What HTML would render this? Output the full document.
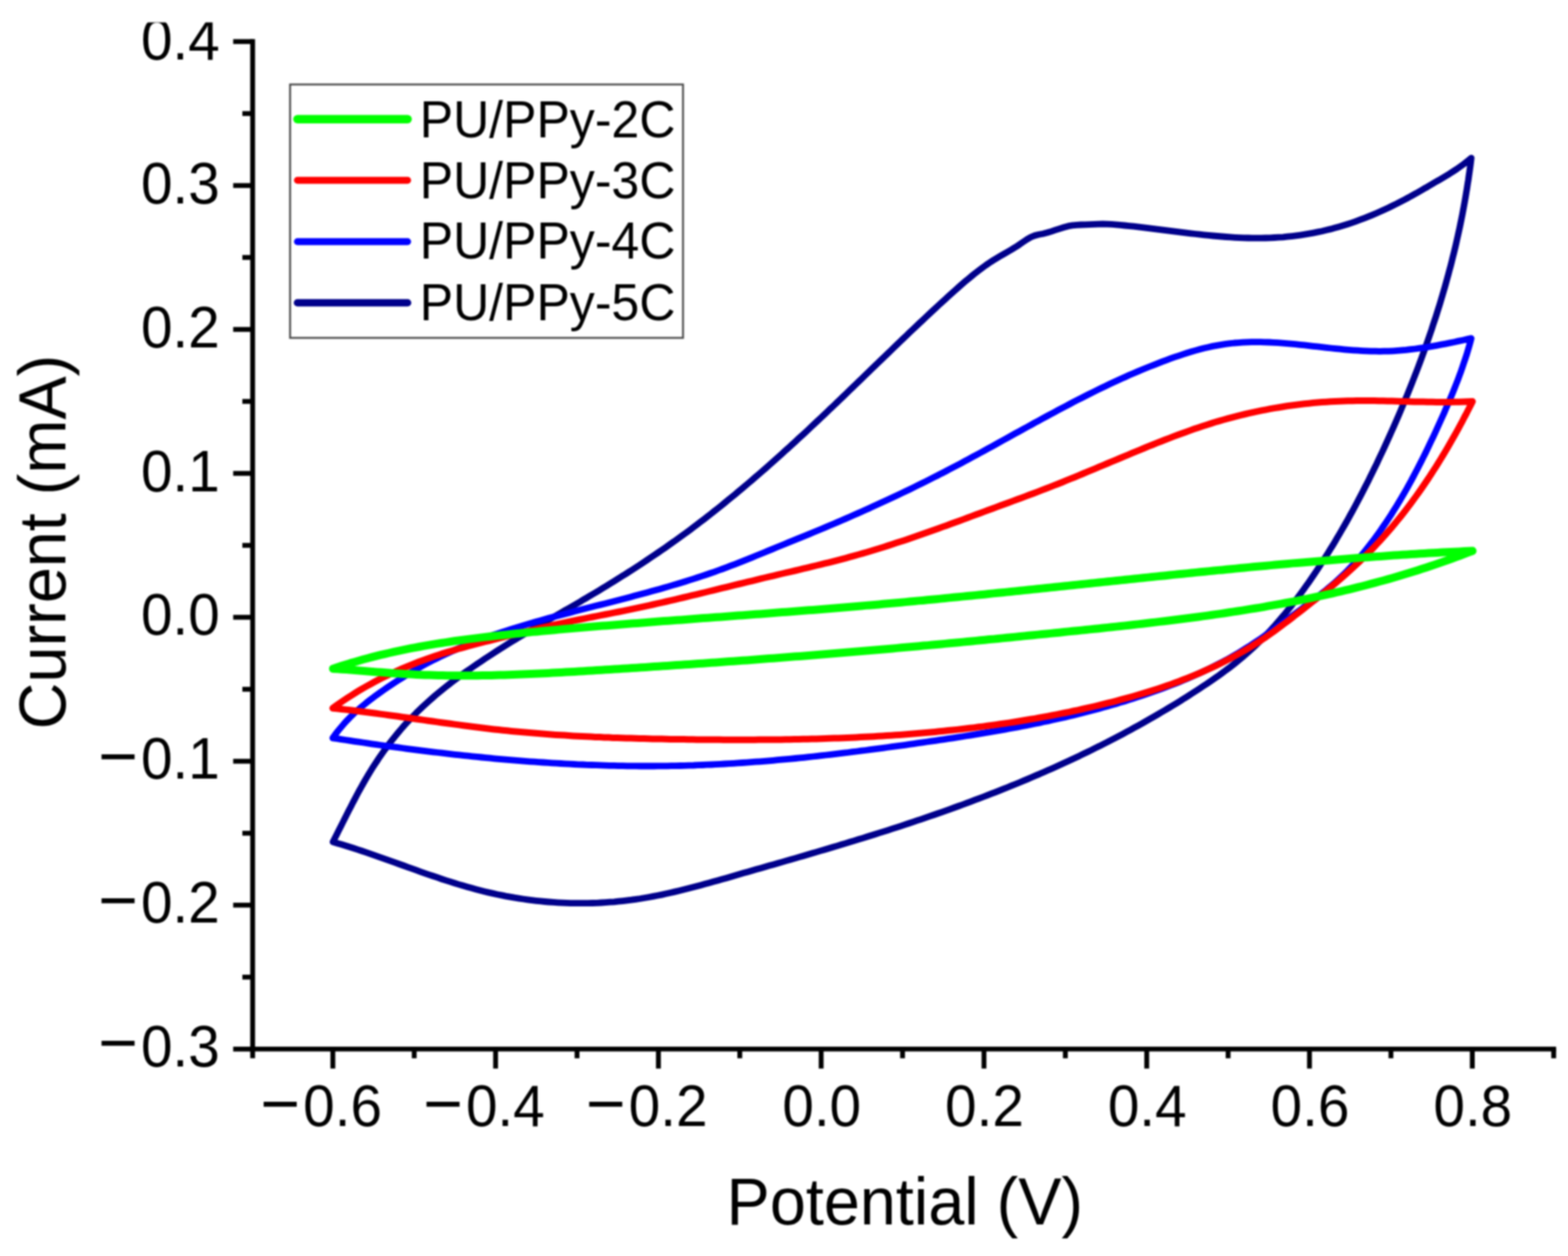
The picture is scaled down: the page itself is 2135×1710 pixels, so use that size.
<!DOCTYPE html>
<html lang="en"><head><meta charset="utf-8"><title>CV curves PU/PPy</title>
<style>html,body{margin:0;padding:0;background:#fff;}body{width:2135px;height:1710px;overflow:hidden;}svg{display:block;filter:blur(0.8px);}</style>
</head><body>
<svg width="2135" height="1710" viewBox="0 0 2135 1710" role="img" aria-label="Cyclic voltammetry curves of PU/PPy samples">
<rect width="2135" height="1710" fill="#fff"/>
<g fill="none" stroke-linejoin="round" stroke-linecap="round">
<path d="M453.3,1146.3 L456.0,1141.0 L458.7,1135.7 L461.4,1130.3 L464.1,1125.0 L466.8,1119.6 L469.5,1114.3 L472.2,1108.9 L474.9,1103.6 L477.7,1098.3 L480.4,1092.9 L483.2,1087.6 L486.0,1082.3 L488.8,1077.0 L491.7,1071.8 L494.7,1066.5 L497.7,1061.3 L500.7,1056.1 L503.8,1051.0 L507.0,1045.8 L510.2,1040.8 L513.6,1035.7 L516.9,1030.7 L520.4,1025.7 L523.9,1020.8 L527.5,1016.0 L531.1,1011.2 L534.8,1006.4 L538.6,1001.7 L542.4,997.1 L546.3,992.5 L550.2,988.0 L554.3,983.6 L558.3,979.3 L562.5,975.0 L566.7,970.7 L570.9,966.6 L575.2,962.5 L579.6,958.5 L584.0,954.5 L588.4,950.6 L592.9,946.7 L597.5,942.9 L602.1,939.1 L606.7,935.4 L611.4,931.7 L616.1,928.1 L620.9,924.5 L625.7,920.9 L630.5,917.4 L635.4,913.9 L640.3,910.5 L645.3,907.0 L650.2,903.6 L655.2,900.3 L660.2,896.9 L665.3,893.6 L670.3,890.3 L675.4,887.0 L680.5,883.7 L685.7,880.5 L690.8,877.3 L696.0,874.1 L701.2,871.0 L706.4,867.8 L711.6,864.7 L716.8,861.6 L722.0,858.5 L727.2,855.4 L732.4,852.3 L737.7,849.3 L742.9,846.3 L748.2,843.2 L753.4,840.2 L758.6,837.2 L763.8,834.2 L769.1,831.2 L774.3,828.2 L779.5,825.2 L784.7,822.2 L789.9,819.2 L795.0,816.1 L800.2,813.1 L805.3,810.0 L810.5,807.0 L815.6,803.9 L820.7,800.8 L825.8,797.7 L830.9,794.6 L835.9,791.5 L841.0,788.3 L846.0,785.1 L851.1,782.0 L856.1,778.8 L861.1,775.6 L866.1,772.3 L871.1,769.1 L876.0,765.8 L881.0,762.5 L885.9,759.2 L890.8,755.9 L895.8,752.5 L900.7,749.2 L905.6,745.8 L910.4,742.4 L915.3,738.9 L920.2,735.5 L925.0,732.0 L929.8,728.5 L934.7,725.0 L939.5,721.4 L944.3,717.8 L949.0,714.2 L953.8,710.6 L958.6,706.9 L963.3,703.3 L968.0,699.6 L972.8,695.8 L977.5,692.1 L982.2,688.3 L986.9,684.5 L991.5,680.7 L996.2,676.9 L1000.9,673.1 L1005.5,669.2 L1010.1,665.3 L1014.8,661.4 L1019.4,657.5 L1024.0,653.6 L1028.5,649.7 L1033.1,645.7 L1037.7,641.7 L1042.2,637.8 L1046.8,633.8 L1051.3,629.8 L1055.8,625.7 L1060.3,621.7 L1064.8,617.7 L1069.3,613.6 L1073.8,609.6 L1078.2,605.5 L1082.7,601.4 L1087.1,597.3 L1091.6,593.2 L1096.0,589.2 L1100.4,585.1 L1104.8,580.9 L1109.2,576.8 L1113.5,572.7 L1117.9,568.6 L1122.3,564.5 L1126.6,560.4 L1130.9,556.2 L1135.3,552.1 L1139.6,548.0 L1143.9,543.8 L1148.2,539.7 L1152.5,535.6 L1156.8,531.4 L1161.1,527.3 L1165.4,523.1 L1169.7,519.0 L1174.0,514.9 L1178.3,510.7 L1182.5,506.6 L1186.8,502.4 L1191.1,498.3 L1195.4,494.1 L1199.7,490.0 L1204.0,485.8 L1208.3,481.7 L1212.6,477.6 L1216.9,473.4 L1221.2,469.3 L1225.5,465.1 L1229.8,461.0 L1234.2,456.9 L1238.5,452.7 L1242.8,448.6 L1247.2,444.5 L1251.6,440.3 L1256.0,436.2 L1260.3,432.1 L1264.7,428.0 L1269.2,423.8 L1273.6,419.7 L1278.0,415.6 L1282.5,411.5 L1287.0,407.4 L1291.5,403.3 L1296.0,399.2 L1300.5,395.2 L1305.1,391.1 L1309.6,387.1 L1314.2,383.2 L1318.9,379.3 L1323.5,375.5 L1328.2,371.7 L1333.0,368.1 L1337.7,364.5 L1342.5,361.0 L1347.4,357.7 L1352.2,354.5 L1357.2,351.4 L1362.1,348.5 L1367.2,345.6 L1372.2,342.7 L1377.3,339.8 L1382.5,336.6 L1387.7,333.2 L1393.0,329.5 L1398.4,325.9 L1403.8,322.8 L1409.2,320.6 L1414.7,319.3 L1420.2,318.2 L1425.8,316.8 L1431.4,315.1 L1437.1,313.2 L1442.8,311.3 L1448.6,309.5 L1454.3,307.9 L1460.1,306.9 L1466.0,306.3 L1471.8,306.0 L1477.7,305.8 L1483.6,305.6 L1489.6,305.3 L1495.5,305.1 L1501.5,305.0 L1507.5,305.1 L1513.5,305.4 L1519.4,305.8 L1525.4,306.4 L1531.4,307.0 L1537.4,307.6 L1543.4,308.2 L1549.5,308.9 L1555.5,309.6 L1561.5,310.4 L1567.5,311.1 L1573.5,311.8 L1579.5,312.6 L1585.5,313.4 L1591.5,314.1 L1597.5,314.9 L1603.5,315.6 L1609.5,316.4 L1615.5,317.1 L1621.5,317.8 L1627.5,318.5 L1633.5,319.2 L1639.5,319.8 L1645.5,320.4 L1651.5,321.0 L1657.5,321.5 L1663.5,322.0 L1669.4,322.5 L1675.4,322.9 L1681.4,323.3 L1687.4,323.6 L1693.4,323.8 L1699.3,324.0 L1705.3,324.1 L1711.3,324.1 L1717.2,324.1 L1723.2,324.0 L1729.1,323.8 L1735.1,323.5 L1741.0,323.2 L1747.0,322.8 L1752.9,322.2 L1758.8,321.6 L1764.7,320.9 L1770.6,320.1 L1776.5,319.2 L1782.4,318.2 L1788.3,317.1 L1794.2,315.9 L1800.0,314.7 L1805.9,313.3 L1811.7,311.9 L1817.5,310.3 L1823.3,308.7 L1829.0,307.0 L1834.8,305.2 L1840.5,303.3 L1846.2,301.3 L1851.9,299.2 L1857.5,297.1 L1863.1,294.9 L1868.7,292.6 L1874.3,290.2 L1879.8,287.8 L1885.4,285.2 L1890.8,282.7 L1896.3,280.0 L1901.7,277.4 L1907.0,274.6 L1912.4,271.8 L1917.7,269.0 L1922.9,266.1 L1928.2,263.2 L1933.4,260.2 L1938.5,257.2 L1943.7,254.3 L1948.8,251.3 L1953.8,248.3 L1958.9,245.4 L1963.9,242.4 L1968.9,239.4 L1973.9,236.4 L1978.8,233.2 L1983.8,230.0 L1988.7,226.5 L1993.6,223.0 L1998.4,219.1 L2003.3,215.1 L2002.6,221.1 L2001.8,227.1 L2001.0,233.0 L2000.1,239.0 L1999.3,244.9 L1998.3,250.9 L1997.4,256.8 L1996.4,262.7 L1995.4,268.7 L1994.4,274.6 L1993.3,280.5 L1992.2,286.4 L1991.1,292.3 L1989.9,298.1 L1988.7,304.0 L1987.5,309.9 L1986.2,315.7 L1984.9,321.6 L1983.6,327.4 L1982.3,333.3 L1980.9,339.1 L1979.5,344.9 L1978.0,350.7 L1976.6,356.5 L1975.1,362.3 L1973.5,368.1 L1972.0,373.9 L1970.4,379.7 L1968.8,385.5 L1967.2,391.2 L1965.5,397.0 L1963.8,402.7 L1962.1,408.5 L1960.4,414.2 L1958.6,419.9 L1956.8,425.6 L1955.0,431.3 L1953.1,437.0 L1951.2,442.7 L1949.4,448.4 L1947.4,454.1 L1945.5,459.7 L1943.5,465.4 L1941.5,471.1 L1939.5,476.7 L1937.5,482.3 L1935.4,488.0 L1933.3,493.6 L1931.2,499.2 L1929.1,504.8 L1926.9,510.4 L1924.7,516.0 L1922.5,521.6 L1920.3,527.2 L1918.1,532.7 L1915.8,538.3 L1913.5,543.8 L1911.2,549.4 L1908.9,554.9 L1906.6,560.4 L1904.2,566.0 L1901.8,571.5 L1899.4,577.0 L1897.0,582.5 L1894.5,588.0 L1892.1,593.4 L1889.6,598.9 L1887.1,604.4 L1884.6,609.8 L1882.1,615.3 L1879.5,620.7 L1876.9,626.2 L1874.4,631.6 L1871.7,637.0 L1869.1,642.4 L1866.4,647.8 L1863.8,653.2 L1861.1,658.5 L1858.3,663.9 L1855.6,669.2 L1852.8,674.6 L1850.0,679.9 L1847.2,685.2 L1844.4,690.5 L1841.5,695.8 L1838.6,701.0 L1835.7,706.3 L1832.8,711.5 L1829.8,716.7 L1826.8,721.9 L1823.8,727.1 L1820.7,732.3 L1817.7,737.5 L1814.6,742.6 L1811.4,747.7 L1808.3,752.8 L1805.1,757.9 L1801.8,763.0 L1798.6,768.0 L1795.3,773.1 L1792.0,778.1 L1788.7,783.0 L1785.3,788.0 L1781.9,792.9 L1778.4,797.8 L1774.9,802.7 L1771.4,807.5 L1767.9,812.3 L1764.3,817.1 L1760.6,821.8 L1757.0,826.5 L1753.3,831.1 L1749.5,835.7 L1745.7,840.2 L1741.9,844.7 L1738.0,849.2 L1734.1,853.6 L1730.1,857.9 L1726.0,862.2 L1721.9,866.5 L1717.8,870.7 L1713.6,874.9 L1709.3,879.0 L1705.0,883.0 L1700.6,887.0 L1696.1,891.0 L1691.6,894.9 L1687.0,898.7 L1682.3,902.5 L1677.6,906.2 L1672.8,909.9 L1667.9,913.5 L1663.0,917.1 L1658.1,920.7 L1653.1,924.2 L1648.1,927.6 L1643.0,931.1 L1637.9,934.4 L1632.8,937.8 L1627.7,941.1 L1622.6,944.4 L1617.5,947.7 L1612.3,950.9 L1607.2,954.2 L1602.0,957.4 L1596.9,960.5 L1591.7,963.6 L1586.5,966.8 L1581.3,969.8 L1576.1,972.9 L1570.9,975.9 L1565.6,978.9 L1560.4,981.9 L1555.2,984.9 L1549.9,987.8 L1544.6,990.7 L1539.4,993.6 L1534.1,996.4 L1528.8,999.3 L1523.5,1002.1 L1518.2,1004.9 L1512.9,1007.6 L1507.6,1010.4 L1502.2,1013.1 L1496.9,1015.8 L1491.5,1018.4 L1486.2,1021.1 L1480.8,1023.7 L1475.4,1026.3 L1470.1,1028.9 L1464.7,1031.4 L1459.3,1034.0 L1453.9,1036.5 L1448.4,1039.0 L1443.0,1041.5 L1437.6,1043.9 L1432.1,1046.4 L1426.7,1048.8 L1421.2,1051.2 L1415.8,1053.6 L1410.3,1055.9 L1404.8,1058.3 L1399.4,1060.6 L1393.9,1062.9 L1388.4,1065.2 L1382.9,1067.5 L1377.4,1069.7 L1371.8,1072.0 L1366.3,1074.2 L1360.8,1076.4 L1355.2,1078.6 L1349.7,1080.7 L1344.1,1082.9 L1338.6,1085.0 L1333.0,1087.1 L1327.4,1089.2 L1321.8,1091.3 L1316.3,1093.4 L1310.7,1095.5 L1305.1,1097.5 L1299.5,1099.5 L1293.8,1101.6 L1288.2,1103.6 L1282.6,1105.6 L1277.0,1107.5 L1271.3,1109.5 L1265.7,1111.4 L1260.0,1113.4 L1254.4,1115.3 L1248.7,1117.2 L1243.1,1119.1 L1237.4,1121.0 L1231.7,1122.9 L1226.0,1124.8 L1220.4,1126.6 L1214.7,1128.4 L1209.0,1130.3 L1203.3,1132.1 L1197.5,1133.9 L1191.8,1135.7 L1186.1,1137.5 L1180.4,1139.3 L1174.7,1141.1 L1168.9,1142.8 L1163.2,1144.6 L1157.5,1146.3 L1151.7,1148.1 L1146.0,1149.8 L1140.2,1151.6 L1134.4,1153.3 L1128.7,1155.0 L1122.9,1156.7 L1117.1,1158.4 L1111.4,1160.1 L1105.6,1161.8 L1099.8,1163.5 L1094.0,1165.2 L1088.2,1166.9 L1082.4,1168.6 L1076.6,1170.2 L1070.8,1171.9 L1065.0,1173.6 L1059.2,1175.3 L1053.4,1176.9 L1047.5,1178.6 L1041.7,1180.3 L1035.9,1181.9 L1030.0,1183.6 L1024.2,1185.3 L1018.4,1187.0 L1012.5,1188.6 L1006.7,1190.3 L1000.8,1192.0 L995.0,1193.7 L989.1,1195.4 L983.3,1197.0 L977.4,1198.7 L971.6,1200.3 L965.7,1202.0 L959.8,1203.6 L954.0,1205.2 L948.1,1206.8 L942.2,1208.3 L936.4,1209.8 L930.5,1211.3 L924.6,1212.7 L918.7,1214.1 L912.8,1215.5 L906.9,1216.8 L901.1,1218.1 L895.2,1219.3 L889.3,1220.4 L883.4,1221.5 L877.5,1222.5 L871.6,1223.5 L865.7,1224.3 L859.8,1225.2 L853.9,1225.9 L848.0,1226.6 L842.1,1227.2 L836.2,1227.8 L830.3,1228.2 L824.4,1228.6 L818.5,1229.0 L812.6,1229.3 L806.6,1229.5 L800.7,1229.6 L794.8,1229.7 L788.9,1229.7 L783.0,1229.7 L777.1,1229.6 L771.2,1229.4 L765.3,1229.1 L759.4,1228.8 L753.5,1228.4 L747.6,1228.0 L741.7,1227.5 L735.9,1226.9 L730.0,1226.3 L724.1,1225.6 L718.2,1224.8 L712.3,1224.0 L706.4,1223.1 L700.6,1222.2 L694.7,1221.1 L688.8,1220.1 L683.0,1218.9 L677.1,1217.7 L671.2,1216.4 L665.4,1215.1 L659.5,1213.7 L653.7,1212.2 L647.9,1210.7 L642.0,1209.1 L636.2,1207.5 L630.4,1205.8 L624.6,1204.1 L618.7,1202.3 L612.9,1200.4 L607.1,1198.6 L601.3,1196.7 L595.6,1194.7 L589.8,1192.8 L584.0,1190.8 L578.2,1188.8 L572.5,1186.8 L566.7,1184.7 L561.0,1182.7 L555.2,1180.6 L549.5,1178.5 L543.8,1176.5 L538.0,1174.4 L532.3,1172.4 L526.6,1170.3 L520.9,1168.3 L515.2,1166.3 L509.6,1164.3 L503.9,1162.3 L498.2,1160.4 L492.6,1158.5 L486.9,1156.6 L481.3,1154.8 L475.7,1153.0 L470.1,1151.2 L464.5,1149.5 L458.9,1147.9Z" stroke="#00008b" stroke-width="8.8"/>
<path d="M453.0,1004.8 L456.8,999.5 L460.7,994.5 L464.7,989.7 L468.7,985.0 L472.8,980.6 L477.0,976.3 L481.2,972.1 L485.5,968.1 L489.9,964.3 L494.4,960.5 L498.9,956.8 L503.4,953.3 L508.1,949.8 L512.7,946.3 L517.5,942.9 L522.3,939.5 L527.1,936.2 L532.0,932.9 L536.9,929.6 L541.9,926.4 L546.9,923.2 L552.0,920.0 L557.1,916.9 L562.3,913.9 L567.5,910.9 L572.7,907.9 L578.0,905.0 L583.3,902.2 L588.6,899.4 L594.0,896.7 L599.4,894.1 L604.8,891.5 L610.3,889.0 L615.8,886.5 L621.3,884.1 L626.8,881.7 L632.4,879.4 L638.0,877.1 L643.6,874.9 L649.2,872.8 L654.9,870.6 L660.5,868.6 L666.2,866.5 L671.9,864.5 L677.6,862.6 L683.4,860.7 L689.1,858.8 L694.9,857.0 L700.7,855.1 L706.5,853.4 L712.3,851.6 L718.1,849.9 L723.9,848.2 L729.7,846.5 L735.5,844.9 L741.4,843.2 L747.2,841.6 L753.1,840.1 L758.9,838.5 L764.8,836.9 L770.6,835.4 L776.5,833.9 L782.3,832.3 L788.2,830.8 L794.0,829.3 L799.9,827.8 L805.7,826.3 L811.5,824.8 L817.4,823.4 L823.2,821.9 L829.0,820.4 L834.8,818.9 L840.6,817.4 L846.4,815.9 L852.2,814.4 L858.0,812.9 L863.8,811.3 L869.6,809.8 L875.3,808.2 L881.1,806.7 L886.9,805.1 L892.6,803.5 L898.4,801.9 L904.1,800.3 L909.9,798.6 L915.6,796.9 L921.3,795.2 L927.1,793.5 L932.8,791.7 L938.5,789.9 L944.2,788.1 L949.9,786.3 L955.6,784.4 L961.3,782.5 L967.0,780.5 L972.7,778.6 L978.3,776.5 L984.0,774.5 L989.7,772.4 L995.3,770.2 L1001.0,768.1 L1006.6,765.9 L1012.3,763.6 L1017.9,761.4 L1023.6,759.1 L1029.2,756.8 L1034.8,754.5 L1040.4,752.2 L1046.0,749.9 L1051.6,747.6 L1057.2,745.3 L1062.8,743.0 L1068.4,740.7 L1074.0,738.4 L1079.6,736.2 L1085.1,733.9 L1090.7,731.6 L1096.3,729.4 L1101.8,727.1 L1107.4,724.8 L1112.9,722.5 L1118.4,720.2 L1124.0,717.9 L1129.5,715.5 L1135.0,713.2 L1140.5,710.9 L1146.0,708.5 L1151.5,706.1 L1157.0,703.7 L1162.5,701.3 L1168.0,698.9 L1173.4,696.5 L1178.9,694.0 L1184.4,691.6 L1189.8,689.1 L1195.3,686.6 L1200.7,684.1 L1206.2,681.6 L1211.6,679.1 L1217.0,676.5 L1222.4,674.0 L1227.8,671.4 L1233.3,668.8 L1238.7,666.2 L1244.0,663.6 L1249.4,660.9 L1254.8,658.3 L1260.2,655.6 L1265.6,652.9 L1270.9,650.2 L1276.3,647.5 L1281.6,644.7 L1287.0,642.0 L1292.3,639.2 L1297.6,636.4 L1303.0,633.6 L1308.3,630.8 L1313.6,627.9 L1318.9,625.1 L1324.2,622.2 L1329.5,619.4 L1334.8,616.5 L1340.1,613.6 L1345.4,610.7 L1350.7,607.8 L1356.0,604.8 L1361.3,601.9 L1366.5,599.0 L1371.8,596.1 L1377.1,593.2 L1382.4,590.2 L1387.7,587.3 L1393.0,584.4 L1398.3,581.5 L1403.6,578.6 L1408.8,575.6 L1414.1,572.8 L1419.4,569.9 L1424.8,567.0 L1430.1,564.1 L1435.4,561.3 L1440.7,558.4 L1446.0,555.6 L1451.4,552.8 L1456.7,550.0 L1462.0,547.2 L1467.4,544.4 L1472.8,541.7 L1478.1,539.0 L1483.5,536.3 L1488.9,533.6 L1494.3,530.9 L1499.7,528.3 L1505.1,525.7 L1510.6,523.1 L1516.0,520.6 L1521.5,518.0 L1526.9,515.5 L1532.4,513.1 L1537.9,510.6 L1543.4,508.2 L1548.9,505.9 L1554.5,503.5 L1560.0,501.2 L1565.6,499.0 L1571.2,496.8 L1576.8,494.6 L1582.4,492.4 L1588.0,490.3 L1593.7,488.2 L1599.4,486.2 L1605.1,484.3 L1610.8,482.4 L1616.5,480.5 L1622.2,478.8 L1628.0,477.1 L1633.7,475.5 L1639.5,474.0 L1645.3,472.7 L1651.1,471.4 L1657.0,470.3 L1662.8,469.3 L1668.7,468.4 L1674.6,467.7 L1680.4,467.0 L1686.3,466.6 L1692.2,466.2 L1698.2,465.9 L1704.1,465.7 L1710.0,465.7 L1716.0,465.7 L1721.9,465.8 L1727.9,466.0 L1733.9,466.3 L1739.9,466.7 L1745.9,467.1 L1751.9,467.6 L1757.9,468.1 L1763.9,468.7 L1769.9,469.3 L1776.0,469.9 L1782.0,470.6 L1788.0,471.3 L1794.1,471.9 L1800.1,472.6 L1806.2,473.3 L1812.2,474.0 L1818.3,474.6 L1824.3,475.2 L1830.4,475.8 L1836.4,476.3 L1842.5,476.8 L1848.5,477.2 L1854.6,477.6 L1860.6,477.9 L1866.6,478.1 L1872.7,478.2 L1878.7,478.3 L1884.7,478.2 L1890.7,478.1 L1896.8,477.8 L1902.8,477.4 L1908.8,476.9 L1914.8,476.4 L1920.7,475.7 L1926.7,475.0 L1932.7,474.2 L1938.6,473.3 L1944.6,472.4 L1950.5,471.4 L1956.4,470.3 L1962.3,469.2 L1968.2,468.1 L1974.1,466.9 L1980.0,465.7 L1985.8,464.4 L1991.7,463.2 L1997.5,461.9 L2003.3,460.6 L2001.8,466.3 L2000.2,472.0 L1998.5,477.7 L1996.8,483.4 L1994.9,489.1 L1993.0,494.7 L1991.1,500.4 L1989.1,506.1 L1987.0,511.7 L1984.9,517.4 L1982.7,523.0 L1980.5,528.6 L1978.2,534.3 L1975.9,539.9 L1973.5,545.5 L1971.1,551.1 L1968.7,556.6 L1966.3,562.2 L1963.8,567.7 L1961.3,573.3 L1958.8,578.8 L1956.3,584.3 L1953.8,589.8 L1951.2,595.3 L1948.6,600.7 L1946.0,606.2 L1943.4,611.6 L1940.8,617.0 L1938.1,622.4 L1935.4,627.8 L1932.7,633.1 L1929.9,638.5 L1927.1,643.8 L1924.3,649.1 L1921.5,654.4 L1918.6,659.6 L1915.7,664.9 L1912.7,670.1 L1909.7,675.2 L1906.7,680.4 L1903.6,685.5 L1900.5,690.7 L1897.3,695.7 L1894.1,700.8 L1890.8,705.8 L1887.5,710.8 L1884.1,715.8 L1880.7,720.8 L1877.2,725.7 L1873.7,730.6 L1870.1,735.5 L1866.4,740.3 L1862.7,745.0 L1858.9,749.7 L1855.1,754.4 L1851.2,759.0 L1847.3,763.5 L1843.2,767.9 L1839.1,772.3 L1835.0,776.6 L1830.7,780.8 L1826.4,784.9 L1822.1,789.0 L1817.7,793.0 L1813.2,796.9 L1808.6,800.7 L1804.1,804.5 L1799.4,808.2 L1794.8,811.9 L1790.1,815.5 L1785.4,819.2 L1780.6,822.8 L1775.8,826.3 L1771.0,829.9 L1766.2,833.5 L1761.4,837.0 L1756.6,840.6 L1751.7,844.2 L1746.9,847.7 L1742.0,851.3 L1737.2,854.8 L1732.3,858.3 L1727.4,861.9 L1722.4,865.3 L1717.5,868.8 L1712.5,872.2 L1707.5,875.5 L1702.4,878.9 L1697.3,882.1 L1692.2,885.3 L1687.0,888.5 L1681.8,891.5 L1676.6,894.6 L1671.3,897.5 L1666.0,900.4 L1660.6,903.2 L1655.2,906.0 L1649.8,908.7 L1644.3,911.4 L1638.8,914.0 L1633.3,916.6 L1627.8,919.1 L1622.2,921.5 L1616.6,923.9 L1611.0,926.3 L1605.4,928.6 L1599.7,930.8 L1594.1,933.0 L1588.4,935.2 L1582.7,937.3 L1577.0,939.4 L1571.3,941.4 L1565.6,943.4 L1559.9,945.4 L1554.1,947.3 L1548.4,949.2 L1542.7,951.1 L1536.9,952.9 L1531.2,954.7 L1525.4,956.4 L1519.6,958.2 L1513.9,959.8 L1508.1,961.5 L1502.3,963.1 L1496.6,964.7 L1490.8,966.3 L1485.0,967.8 L1479.2,969.3 L1473.4,970.8 L1467.6,972.2 L1461.8,973.6 L1456.0,975.0 L1450.2,976.4 L1444.3,977.7 L1438.5,979.0 L1432.7,980.3 L1426.9,981.6 L1421.0,982.8 L1415.2,984.1 L1409.3,985.3 L1403.5,986.4 L1397.6,987.6 L1391.8,988.7 L1385.9,989.9 L1380.0,991.0 L1374.2,992.0 L1368.3,993.1 L1362.4,994.2 L1356.5,995.2 L1350.7,996.2 L1344.8,997.2 L1338.9,998.2 L1333.0,999.2 L1327.1,1000.1 L1321.2,1001.1 L1315.3,1002.0 L1309.4,1003.0 L1303.4,1003.9 L1297.5,1004.8 L1291.6,1005.7 L1285.7,1006.6 L1279.8,1007.4 L1273.8,1008.3 L1267.9,1009.2 L1262.0,1010.0 L1256.0,1010.9 L1250.1,1011.7 L1244.1,1012.6 L1238.2,1013.4 L1232.3,1014.3 L1226.3,1015.1 L1220.3,1015.9 L1214.4,1016.7 L1208.4,1017.5 L1202.5,1018.3 L1196.5,1019.1 L1190.5,1019.9 L1184.6,1020.7 L1178.6,1021.5 L1172.6,1022.2 L1166.6,1023.0 L1160.7,1023.7 L1154.7,1024.5 L1148.7,1025.2 L1142.7,1025.9 L1136.7,1026.6 L1130.7,1027.3 L1124.7,1028.0 L1118.8,1028.7 L1112.8,1029.3 L1106.8,1030.0 L1100.8,1030.6 L1094.8,1031.3 L1088.8,1031.9 L1082.8,1032.5 L1076.8,1033.1 L1070.8,1033.6 L1064.7,1034.2 L1058.7,1034.7 L1052.7,1035.3 L1046.7,1035.8 L1040.7,1036.3 L1034.7,1036.8 L1028.7,1037.2 L1022.7,1037.7 L1016.6,1038.1 L1010.6,1038.5 L1004.6,1038.9 L998.6,1039.3 L992.6,1039.7 L986.5,1040.0 L980.5,1040.4 L974.5,1040.7 L968.5,1041.0 L962.4,1041.2 L956.4,1041.5 L950.4,1041.7 L944.4,1042.0 L938.3,1042.1 L932.3,1042.3 L926.3,1042.5 L920.3,1042.6 L914.2,1042.7 L908.2,1042.8 L902.2,1042.9 L896.1,1042.9 L890.1,1043.0 L884.1,1043.0 L878.1,1043.0 L872.0,1043.0 L866.0,1042.9 L860.0,1042.9 L854.0,1042.8 L847.9,1042.7 L841.9,1042.6 L835.9,1042.4 L829.8,1042.3 L823.8,1042.1 L817.8,1041.9 L811.8,1041.7 L805.7,1041.5 L799.7,1041.3 L793.7,1041.0 L787.7,1040.8 L781.6,1040.5 L775.6,1040.2 L769.6,1039.9 L763.6,1039.5 L757.6,1039.2 L751.6,1038.8 L745.5,1038.4 L739.5,1038.0 L733.5,1037.6 L727.5,1037.2 L721.5,1036.8 L715.5,1036.3 L709.5,1035.8 L703.5,1035.4 L697.4,1034.9 L691.4,1034.4 L685.4,1033.8 L679.4,1033.3 L673.4,1032.8 L667.4,1032.2 L661.4,1031.6 L655.4,1031.0 L649.5,1030.4 L643.5,1029.8 L637.5,1029.2 L631.5,1028.6 L625.5,1027.9 L619.5,1027.3 L613.5,1026.6 L607.6,1025.9 L601.6,1025.2 L595.6,1024.5 L589.6,1023.8 L583.7,1023.1 L577.7,1022.3 L571.7,1021.6 L565.8,1020.8 L559.8,1020.1 L553.8,1019.3 L547.9,1018.5 L541.9,1017.7 L536.0,1016.9 L530.0,1016.1 L524.1,1015.3 L518.2,1014.5 L512.2,1013.6 L506.3,1012.8 L500.3,1011.9 L494.4,1011.0 L488.5,1010.2 L482.6,1009.3 L476.6,1008.4 L470.7,1007.5 L464.8,1006.6 L458.9,1005.7Z" stroke="#0000ff" stroke-width="8.8"/>
<path d="M453.0,964.2 L458.1,960.5 L463.2,956.9 L468.3,953.4 L473.4,950.0 L478.6,946.7 L483.8,943.4 L489.0,940.2 L494.2,937.1 L499.5,934.1 L504.8,931.2 L510.1,928.3 L515.4,925.5 L520.8,922.8 L526.1,920.2 L531.5,917.6 L536.9,915.1 L542.4,912.6 L547.8,910.2 L553.3,907.9 L558.8,905.7 L564.3,903.5 L569.8,901.3 L575.4,899.2 L580.9,897.2 L586.5,895.2 L592.1,893.3 L597.7,891.5 L603.3,889.6 L609.0,887.9 L614.6,886.2 L620.3,884.5 L626.0,882.8 L631.6,881.3 L637.4,879.7 L643.1,878.2 L648.8,876.7 L654.5,875.2 L660.3,873.7 L666.1,872.3 L671.8,870.8 L677.6,869.4 L683.4,868.0 L689.2,866.5 L695.0,865.1 L700.9,863.6 L706.7,862.2 L712.5,860.7 L718.4,859.3 L724.2,857.8 L730.1,856.4 L736.0,855.0 L741.8,853.6 L747.7,852.3 L753.6,851.0 L759.5,849.7 L765.4,848.4 L771.3,847.2 L777.2,845.9 L783.1,844.7 L789.0,843.5 L794.9,842.3 L800.8,841.2 L806.7,840.0 L812.6,838.9 L818.5,837.7 L824.4,836.5 L830.4,835.4 L836.3,834.2 L842.2,833.0 L848.1,831.8 L854.0,830.6 L859.9,829.4 L865.8,828.2 L871.7,826.9 L877.6,825.6 L883.5,824.3 L889.4,823.0 L895.3,821.7 L901.2,820.4 L907.1,819.0 L913.0,817.7 L918.8,816.3 L924.7,814.9 L930.6,813.5 L936.5,812.1 L942.3,810.7 L948.2,809.3 L954.1,807.9 L959.9,806.5 L965.8,805.0 L971.7,803.6 L977.5,802.2 L983.4,800.7 L989.2,799.3 L995.1,797.9 L1000.9,796.4 L1006.8,795.0 L1012.6,793.6 L1018.4,792.2 L1024.3,790.8 L1030.1,789.3 L1035.9,787.9 L1041.7,786.5 L1047.6,785.2 L1053.4,783.8 L1059.2,782.4 L1065.0,781.0 L1070.8,779.7 L1076.6,778.3 L1082.4,777.0 L1088.2,775.6 L1094.0,774.2 L1099.8,772.8 L1105.6,771.4 L1111.4,770.0 L1117.2,768.6 L1122.9,767.2 L1128.7,765.8 L1134.5,764.3 L1140.3,762.8 L1146.0,761.3 L1151.8,759.8 L1157.6,758.2 L1163.3,756.6 L1169.1,755.0 L1174.8,753.4 L1180.6,751.7 L1186.3,750.0 L1192.0,748.2 L1197.8,746.5 L1203.5,744.7 L1209.2,742.9 L1215.0,741.0 L1220.7,739.1 L1226.4,737.3 L1232.1,735.4 L1237.8,733.4 L1243.5,731.5 L1249.2,729.5 L1254.9,727.5 L1260.6,725.5 L1266.3,723.5 L1272.0,721.5 L1277.7,719.5 L1283.3,717.4 L1289.0,715.4 L1294.7,713.3 L1300.3,711.2 L1306.0,709.2 L1311.7,707.1 L1317.3,705.0 L1323.0,702.9 L1328.6,700.8 L1334.3,698.7 L1339.9,696.6 L1345.5,694.6 L1351.2,692.5 L1356.8,690.4 L1362.4,688.3 L1368.0,686.2 L1373.6,684.2 L1379.2,682.1 L1384.8,680.0 L1390.5,678.0 L1396.1,675.9 L1401.6,673.8 L1407.2,671.7 L1412.8,669.6 L1418.4,667.4 L1424.0,665.3 L1429.6,663.1 L1435.2,660.9 L1440.8,658.7 L1446.4,656.5 L1451.9,654.2 L1457.5,651.9 L1463.1,649.7 L1468.7,647.4 L1474.3,645.0 L1479.9,642.7 L1485.4,640.4 L1491.0,638.1 L1496.6,635.7 L1502.2,633.4 L1507.8,631.0 L1513.4,628.7 L1519.0,626.3 L1524.6,624.0 L1530.2,621.6 L1535.8,619.3 L1541.4,616.9 L1547.0,614.6 L1552.6,612.3 L1558.2,610.0 L1563.8,607.7 L1569.4,605.5 L1575.1,603.2 L1580.7,601.0 L1586.3,598.8 L1592.0,596.6 L1597.6,594.4 L1603.3,592.3 L1608.9,590.2 L1614.6,588.2 L1620.3,586.1 L1625.9,584.1 L1631.6,582.2 L1637.3,580.3 L1643.0,578.4 L1648.7,576.6 L1654.4,574.8 L1660.2,573.1 L1665.9,571.5 L1671.6,569.9 L1677.4,568.3 L1683.1,566.8 L1688.9,565.3 L1694.6,564.0 L1700.4,562.6 L1706.2,561.3 L1712.0,560.1 L1717.8,558.9 L1723.6,557.8 L1729.4,556.7 L1735.2,555.6 L1741.1,554.7 L1746.9,553.7 L1752.7,552.8 L1758.6,552.0 L1764.5,551.2 L1770.3,550.5 L1776.2,549.8 L1782.1,549.2 L1788.0,548.6 L1793.9,548.1 L1799.8,547.6 L1805.7,547.2 L1811.6,546.8 L1817.5,546.5 L1823.5,546.2 L1829.4,546.0 L1835.4,545.8 L1841.3,545.7 L1847.3,545.6 L1853.3,545.5 L1859.3,545.5 L1865.3,545.6 L1871.2,545.6 L1877.3,545.7 L1883.3,545.8 L1889.3,545.9 L1895.3,546.1 L1901.3,546.2 L1907.4,546.4 L1913.4,546.6 L1919.5,546.7 L1925.5,546.9 L1931.6,547.0 L1937.7,547.1 L1943.8,547.3 L1949.9,547.3 L1956.0,547.4 L1962.1,547.4 L1968.2,547.4 L1974.3,547.4 L1980.4,547.3 L1986.6,547.2 L1992.7,547.0 L1998.8,546.8 L2005.0,546.5 L2002.4,551.8 L1999.7,557.0 L1997.0,562.3 L1994.2,567.5 L1991.5,572.8 L1988.6,578.1 L1985.8,583.3 L1982.9,588.6 L1980.0,593.8 L1977.0,599.0 L1974.0,604.3 L1971.0,609.5 L1967.9,614.7 L1964.8,619.9 L1961.7,625.0 L1958.5,630.2 L1955.3,635.3 L1952.0,640.4 L1948.7,645.5 L1945.4,650.6 L1942.0,655.6 L1938.6,660.6 L1935.2,665.6 L1931.7,670.6 L1928.2,675.5 L1924.6,680.4 L1921.0,685.3 L1917.4,690.1 L1913.7,694.9 L1910.0,699.7 L1906.3,704.4 L1902.5,709.0 L1898.7,713.7 L1894.8,718.3 L1890.9,722.8 L1887.0,727.3 L1883.0,731.8 L1879.0,736.2 L1875.0,740.5 L1870.9,744.8 L1866.8,749.1 L1862.6,753.3 L1858.4,757.5 L1854.2,761.6 L1849.9,765.7 L1845.6,769.7 L1841.3,773.7 L1836.9,777.7 L1832.6,781.6 L1828.1,785.5 L1823.7,789.4 L1819.2,793.2 L1814.7,797.0 L1810.2,800.8 L1805.6,804.5 L1801.0,808.2 L1796.4,812.0 L1791.8,815.7 L1787.1,819.3 L1782.4,823.0 L1777.7,826.7 L1773.0,830.4 L1768.2,834.1 L1763.4,837.8 L1758.6,841.6 L1753.7,845.3 L1748.8,849.0 L1743.9,852.7 L1738.9,856.4 L1733.9,860.1 L1728.9,863.6 L1723.9,867.2 L1718.8,870.6 L1713.7,874.0 L1708.5,877.2 L1703.3,880.5 L1698.1,883.6 L1692.9,886.7 L1687.6,889.7 L1682.3,892.6 L1677.0,895.5 L1671.6,898.3 L1666.3,901.1 L1660.9,903.8 L1655.5,906.4 L1650.0,908.9 L1644.5,911.4 L1639.0,913.9 L1633.5,916.3 L1628.0,918.6 L1622.5,920.9 L1616.9,923.1 L1611.3,925.3 L1605.7,927.5 L1600.1,929.5 L1594.4,931.6 L1588.8,933.6 L1583.1,935.5 L1577.4,937.4 L1571.7,939.3 L1566.0,941.1 L1560.3,942.9 L1554.5,944.6 L1548.8,946.3 L1543.0,948.0 L1537.3,949.6 L1531.5,951.2 L1525.7,952.7 L1519.9,954.3 L1514.1,955.8 L1508.3,957.2 L1502.5,958.7 L1496.7,960.1 L1490.9,961.5 L1485.0,962.8 L1479.2,964.2 L1473.4,965.5 L1467.6,966.8 L1461.7,968.0 L1455.9,969.3 L1450.0,970.5 L1444.2,971.7 L1438.3,972.8 L1432.5,974.0 L1426.6,975.1 L1420.7,976.2 L1414.9,977.2 L1409.0,978.3 L1403.1,979.3 L1397.2,980.3 L1391.3,981.3 L1385.5,982.2 L1379.6,983.2 L1373.7,984.1 L1367.8,985.0 L1361.9,985.8 L1356.0,986.7 L1350.1,987.5 L1344.1,988.3 L1338.2,989.1 L1332.3,989.8 L1326.4,990.6 L1320.5,991.3 L1314.5,992.0 L1308.6,992.7 L1302.7,993.4 L1296.7,994.0 L1290.8,994.6 L1284.9,995.2 L1278.9,995.8 L1273.0,996.4 L1267.0,997.0 L1261.1,997.5 L1255.1,998.0 L1249.2,998.5 L1243.2,999.0 L1237.2,999.5 L1231.3,999.9 L1225.3,1000.4 L1219.3,1000.8 L1213.4,1001.2 L1207.4,1001.6 L1201.4,1002.0 L1195.4,1002.3 L1189.5,1002.7 L1183.5,1003.0 L1177.5,1003.3 L1171.5,1003.6 L1165.5,1003.9 L1159.5,1004.2 L1153.5,1004.4 L1147.5,1004.7 L1141.5,1004.9 L1135.6,1005.1 L1129.6,1005.3 L1123.6,1005.5 L1117.6,1005.7 L1111.6,1005.9 L1105.5,1006.0 L1099.5,1006.2 L1093.5,1006.3 L1087.5,1006.5 L1081.5,1006.6 L1075.5,1006.7 L1069.5,1006.8 L1063.5,1006.9 L1057.5,1006.9 L1051.5,1007.0 L1045.4,1007.1 L1039.4,1007.1 L1033.4,1007.1 L1027.4,1007.2 L1021.4,1007.2 L1015.4,1007.2 L1009.3,1007.2 L1003.3,1007.2 L997.3,1007.2 L991.3,1007.2 L985.3,1007.2 L979.2,1007.1 L973.2,1007.1 L967.2,1007.0 L961.2,1007.0 L955.1,1006.9 L949.1,1006.9 L943.1,1006.8 L937.1,1006.7 L931.1,1006.6 L925.0,1006.5 L919.0,1006.5 L913.0,1006.4 L907.0,1006.3 L900.9,1006.1 L894.9,1006.0 L888.9,1005.9 L882.9,1005.8 L876.8,1005.6 L870.8,1005.5 L864.8,1005.3 L858.8,1005.1 L852.8,1005.0 L846.7,1004.8 L840.7,1004.6 L834.7,1004.4 L828.7,1004.1 L822.7,1003.9 L816.7,1003.6 L810.6,1003.4 L804.6,1003.1 L798.6,1002.8 L792.6,1002.5 L786.6,1002.2 L780.6,1001.9 L774.6,1001.5 L768.6,1001.1 L762.6,1000.8 L756.5,1000.4 L750.5,1000.0 L744.5,999.5 L738.5,999.1 L732.5,998.6 L726.5,998.1 L720.5,997.6 L714.5,997.1 L708.6,996.6 L702.6,996.0 L696.6,995.4 L690.6,994.8 L684.6,994.2 L678.6,993.5 L672.6,992.9 L666.6,992.2 L660.7,991.5 L654.7,990.8 L648.7,990.0 L642.7,989.3 L636.8,988.5 L630.8,987.7 L624.8,986.9 L618.9,986.1 L612.9,985.3 L606.9,984.5 L601.0,983.7 L595.0,982.9 L589.1,982.0 L583.1,981.2 L577.2,980.4 L571.2,979.5 L565.3,978.7 L559.4,977.8 L553.4,977.0 L547.5,976.2 L541.6,975.3 L535.6,974.5 L529.7,973.7 L523.8,972.9 L517.9,972.1 L512.0,971.3 L506.1,970.5 L500.1,969.8 L494.2,969.0 L488.3,968.3 L482.4,967.5 L476.5,966.8 L470.7,966.1 L464.8,965.5 L458.9,964.8Z" stroke="#ff0000" stroke-width="9.0"/>
<path d="M453.5,910.5 L459.4,908.5 L465.2,906.6 L471.1,904.8 L477.0,902.9 L482.9,901.2 L488.8,899.5 L494.6,897.8 L500.5,896.2 L506.4,894.7 L512.3,893.2 L518.2,891.7 L524.1,890.3 L529.9,889.0 L535.8,887.6 L541.7,886.3 L547.6,885.1 L553.5,883.9 L559.4,882.7 L565.3,881.6 L571.2,880.5 L577.1,879.4 L583.0,878.4 L588.9,877.4 L594.8,876.4 L600.7,875.5 L606.7,874.6 L612.6,873.7 L618.5,872.8 L624.4,872.0 L630.3,871.2 L636.2,870.4 L642.1,869.6 L648.1,868.9 L654.0,868.1 L659.9,867.4 L665.8,866.7 L671.7,866.0 L677.7,865.4 L683.6,864.7 L689.5,864.1 L695.5,863.4 L701.4,862.8 L707.3,862.2 L713.2,861.6 L719.2,861.0 L725.1,860.4 L731.0,859.9 L737.0,859.3 L742.9,858.8 L748.9,858.2 L754.8,857.7 L760.7,857.1 L766.7,856.6 L772.6,856.1 L778.6,855.6 L784.5,855.1 L790.5,854.6 L796.4,854.1 L802.4,853.6 L808.3,853.1 L814.3,852.6 L820.2,852.1 L826.2,851.7 L832.1,851.2 L838.1,850.7 L844.0,850.2 L850.0,849.8 L855.9,849.3 L861.9,848.8 L867.9,848.4 L873.8,847.9 L879.8,847.5 L885.7,847.0 L891.7,846.5 L897.7,846.1 L903.6,845.6 L909.6,845.2 L915.6,844.7 L921.5,844.3 L927.5,843.9 L933.5,843.4 L939.4,843.0 L945.4,842.5 L951.4,842.1 L957.4,841.6 L963.3,841.2 L969.3,840.8 L975.3,840.3 L981.3,839.9 L987.2,839.4 L993.2,839.0 L999.2,838.5 L1005.2,838.1 L1011.1,837.7 L1017.1,837.2 L1023.1,836.8 L1029.1,836.3 L1035.1,835.9 L1041.0,835.4 L1047.0,835.0 L1053.0,834.5 L1059.0,834.1 L1065.0,833.6 L1070.9,833.2 L1076.9,832.7 L1082.9,832.2 L1088.9,831.8 L1094.9,831.3 L1100.9,830.8 L1106.9,830.4 L1112.9,829.9 L1118.8,829.4 L1124.8,828.9 L1130.8,828.4 L1136.8,828.0 L1142.8,827.5 L1148.8,827.0 L1154.8,826.5 L1160.8,826.0 L1166.8,825.5 L1172.7,825.0 L1178.7,824.4 L1184.7,823.9 L1190.7,823.4 L1196.7,822.9 L1202.7,822.3 L1208.7,821.8 L1214.7,821.3 L1220.7,820.7 L1226.7,820.2 L1232.7,819.6 L1238.7,819.1 L1244.7,818.5 L1250.7,817.9 L1256.7,817.4 L1262.7,816.8 L1268.7,816.2 L1274.6,815.7 L1280.6,815.1 L1286.6,814.5 L1292.6,813.9 L1298.6,813.3 L1304.6,812.7 L1310.6,812.1 L1316.6,811.6 L1322.6,811.0 L1328.6,810.4 L1334.6,809.8 L1340.6,809.2 L1346.6,808.5 L1352.6,807.9 L1358.6,807.3 L1364.6,806.7 L1370.6,806.1 L1376.6,805.5 L1382.6,804.9 L1388.6,804.3 L1394.6,803.6 L1400.6,803.0 L1406.6,802.4 L1412.6,801.8 L1418.6,801.1 L1424.6,800.5 L1430.6,799.9 L1436.6,799.3 L1442.6,798.6 L1448.6,798.0 L1454.6,797.4 L1460.6,796.8 L1466.6,796.1 L1472.6,795.5 L1478.6,794.9 L1484.6,794.2 L1490.6,793.6 L1496.6,793.0 L1502.6,792.4 L1508.6,791.7 L1514.6,791.1 L1520.6,790.5 L1526.6,789.9 L1532.6,789.2 L1538.6,788.6 L1544.5,788.0 L1550.5,787.4 L1556.5,786.7 L1562.5,786.1 L1568.5,785.5 L1574.5,784.9 L1580.5,784.3 L1586.5,783.7 L1592.5,783.0 L1598.5,782.4 L1604.5,781.8 L1610.5,781.2 L1616.5,780.6 L1622.5,780.0 L1628.5,779.4 L1634.5,778.8 L1640.5,778.2 L1646.4,777.6 L1652.4,777.0 L1658.4,776.4 L1664.4,775.9 L1670.4,775.3 L1676.4,774.7 L1682.4,774.1 L1688.4,773.5 L1694.4,773.0 L1700.4,772.4 L1706.3,771.8 L1712.3,771.3 L1718.3,770.7 L1724.3,770.2 L1730.3,769.6 L1736.3,769.1 L1742.3,768.5 L1748.2,768.0 L1754.2,767.5 L1760.2,766.9 L1766.2,766.4 L1772.2,765.9 L1778.2,765.4 L1784.1,764.9 L1790.1,764.4 L1796.1,763.9 L1802.1,763.4 L1808.1,762.9 L1814.0,762.4 L1820.0,761.9 L1826.0,761.4 L1832.0,761.0 L1838.0,760.5 L1843.9,760.0 L1849.9,759.6 L1855.9,759.1 L1861.9,758.7 L1867.8,758.2 L1873.8,757.8 L1879.8,757.4 L1885.7,757.0 L1891.7,756.6 L1897.7,756.1 L1903.6,755.7 L1909.6,755.3 L1915.6,755.0 L1921.5,754.6 L1927.5,754.2 L1933.5,753.8 L1939.4,753.5 L1945.4,753.1 L1951.4,752.8 L1957.3,752.4 L1963.3,752.1 L1969.3,751.8 L1975.2,751.5 L1981.2,751.2 L1987.1,750.9 L1993.1,750.6 L1999.0,750.3 L2005.0,750.0 L1999.3,752.2 L1993.5,754.4 L1987.8,756.6 L1982.1,758.7 L1976.3,760.8 L1970.6,762.9 L1964.8,764.9 L1959.1,766.9 L1953.3,768.9 L1947.6,770.8 L1941.8,772.7 L1936.0,774.6 L1930.3,776.5 L1924.5,778.3 L1918.7,780.1 L1912.9,781.8 L1907.2,783.6 L1901.4,785.3 L1895.6,787.0 L1889.8,788.6 L1884.0,790.2 L1878.2,791.8 L1872.4,793.4 L1866.6,794.9 L1860.8,796.5 L1855.0,798.0 L1849.2,799.4 L1843.4,800.9 L1837.6,802.3 L1831.7,803.7 L1825.9,805.1 L1820.1,806.4 L1814.3,807.8 L1808.4,809.1 L1802.6,810.4 L1796.8,811.6 L1790.9,812.9 L1785.1,814.1 L1779.2,815.3 L1773.4,816.5 L1767.5,817.6 L1761.7,818.8 L1755.8,819.9 L1750.0,821.0 L1744.1,822.1 L1738.3,823.2 L1732.4,824.2 L1726.5,825.2 L1720.7,826.3 L1714.8,827.3 L1708.9,828.2 L1703.0,829.2 L1697.2,830.2 L1691.3,831.1 L1685.4,832.0 L1679.5,832.9 L1673.6,833.8 L1667.7,834.7 L1661.8,835.6 L1655.9,836.4 L1650.0,837.2 L1644.1,838.1 L1638.2,838.9 L1632.3,839.7 L1626.4,840.5 L1620.5,841.3 L1614.6,842.0 L1608.7,842.8 L1602.8,843.5 L1596.9,844.3 L1591.0,845.0 L1585.0,845.7 L1579.1,846.4 L1573.2,847.1 L1567.3,847.8 L1561.3,848.5 L1555.4,849.2 L1549.5,849.9 L1543.6,850.5 L1537.6,851.2 L1531.7,851.9 L1525.7,852.5 L1519.8,853.1 L1513.9,853.8 L1507.9,854.4 L1502.0,855.0 L1496.0,855.7 L1490.1,856.3 L1484.1,856.9 L1478.2,857.5 L1472.2,858.1 L1466.3,858.7 L1460.3,859.3 L1454.4,859.9 L1448.4,860.5 L1442.4,861.2 L1436.5,861.8 L1430.5,862.4 L1424.6,863.0 L1418.6,863.5 L1412.6,864.1 L1406.7,864.7 L1400.7,865.3 L1394.7,865.9 L1388.7,866.5 L1382.8,867.1 L1376.8,867.7 L1370.8,868.3 L1364.8,868.9 L1358.9,869.5 L1352.9,870.1 L1346.9,870.6 L1340.9,871.2 L1334.9,871.8 L1329.0,872.4 L1323.0,873.0 L1317.0,873.5 L1311.0,874.1 L1305.0,874.7 L1299.0,875.2 L1293.0,875.8 L1287.0,876.4 L1281.1,876.9 L1275.1,877.5 L1269.1,878.0 L1263.1,878.6 L1257.1,879.1 L1251.1,879.7 L1245.1,880.2 L1239.1,880.8 L1233.1,881.3 L1227.1,881.8 L1221.1,882.4 L1215.1,882.9 L1209.1,883.4 L1203.1,883.9 L1197.1,884.5 L1191.1,885.0 L1185.1,885.5 L1179.1,886.0 L1173.1,886.5 L1167.1,887.0 L1161.1,887.5 L1155.1,888.0 L1149.1,888.5 L1143.1,889.0 L1137.1,889.5 L1131.0,890.0 L1125.0,890.5 L1119.0,891.0 L1113.0,891.5 L1107.0,891.9 L1101.0,892.4 L1095.0,892.9 L1089.0,893.4 L1083.0,893.8 L1077.0,894.3 L1071.0,894.8 L1064.9,895.2 L1058.9,895.7 L1052.9,896.2 L1046.9,896.6 L1040.9,897.1 L1034.9,897.5 L1028.9,898.0 L1022.9,898.4 L1016.9,898.9 L1010.8,899.3 L1004.8,899.7 L998.8,900.2 L992.8,900.6 L986.8,901.0 L980.8,901.5 L974.8,901.9 L968.8,902.3 L962.7,902.7 L956.7,903.2 L950.7,903.6 L944.7,904.0 L938.7,904.4 L932.7,904.8 L926.7,905.2 L920.7,905.6 L914.6,906.0 L908.6,906.4 L902.6,906.8 L896.6,907.2 L890.6,907.6 L884.6,908.0 L878.6,908.4 L872.6,908.8 L866.6,909.2 L860.5,909.6 L854.5,910.0 L848.5,910.3 L842.5,910.7 L836.5,911.1 L830.5,911.5 L824.5,911.8 L818.5,912.2 L812.5,912.6 L806.5,913.0 L800.5,913.3 L794.5,913.7 L788.5,914.0 L782.4,914.4 L776.4,914.7 L770.4,915.1 L764.4,915.4 L758.4,915.8 L752.4,916.1 L746.4,916.4 L740.4,916.7 L734.4,917.0 L728.4,917.3 L722.4,917.6 L716.4,917.8 L710.4,918.1 L704.4,918.3 L698.5,918.5 L692.5,918.7 L686.5,918.9 L680.5,919.1 L674.5,919.2 L668.5,919.4 L662.5,919.5 L656.5,919.6 L650.5,919.7 L644.5,919.8 L638.5,919.8 L632.6,919.8 L626.6,919.8 L620.6,919.8 L614.6,919.8 L608.6,919.7 L602.6,919.6 L596.7,919.5 L590.7,919.3 L584.7,919.1 L578.7,918.9 L572.8,918.7 L566.8,918.4 L560.8,918.1 L554.8,917.8 L548.9,917.5 L542.9,917.1 L536.9,916.7 L531.0,916.2 L525.0,915.8 L519.0,915.3 L513.1,914.9 L507.1,914.4 L501.1,913.9 L495.2,913.4 L489.2,913.0 L483.3,912.5 L477.3,912.0 L471.4,911.6 L465.4,911.2 L459.5,910.8Z" stroke="#00ff00" stroke-width="11.0"/>
</g>
<g stroke="#000" stroke-width="6.6" fill="none" stroke-linecap="butt">
<line x1="344.0" y1="53.3" x2="344.0" y2="1440.8"/>
<line x1="340.7" y1="1428.3" x2="2118.8" y2="1428.3"/>
<line x1="317.5" y1="56.6" x2="344.0" y2="56.6"/>
<line x1="330.0" y1="154.6" x2="344.0" y2="154.6"/>
<line x1="317.5" y1="252.6" x2="344.0" y2="252.6"/>
<line x1="330.0" y1="350.5" x2="344.0" y2="350.5"/>
<line x1="317.5" y1="448.5" x2="344.0" y2="448.5"/>
<line x1="330.0" y1="546.5" x2="344.0" y2="546.5"/>
<line x1="317.5" y1="644.5" x2="344.0" y2="644.5"/>
<line x1="330.0" y1="742.5" x2="344.0" y2="742.5"/>
<line x1="317.5" y1="840.4" x2="344.0" y2="840.4"/>
<line x1="330.0" y1="938.4" x2="344.0" y2="938.4"/>
<line x1="317.5" y1="1036.4" x2="344.0" y2="1036.4"/>
<line x1="330.0" y1="1134.4" x2="344.0" y2="1134.4"/>
<line x1="317.5" y1="1232.3" x2="344.0" y2="1232.3"/>
<line x1="330.0" y1="1330.3" x2="344.0" y2="1330.3"/>
<line x1="317.5" y1="1428.3" x2="344.0" y2="1428.3"/>
<line x1="453.2" y1="1428.3" x2="453.2" y2="1454.8"/>
<line x1="564.0" y1="1428.3" x2="564.0" y2="1440.8"/>
<line x1="674.8" y1="1428.3" x2="674.8" y2="1454.8"/>
<line x1="785.7" y1="1428.3" x2="785.7" y2="1440.8"/>
<line x1="896.5" y1="1428.3" x2="896.5" y2="1454.8"/>
<line x1="1007.3" y1="1428.3" x2="1007.3" y2="1440.8"/>
<line x1="1118.1" y1="1428.3" x2="1118.1" y2="1454.8"/>
<line x1="1228.9" y1="1428.3" x2="1228.9" y2="1440.8"/>
<line x1="1339.8" y1="1428.3" x2="1339.8" y2="1454.8"/>
<line x1="1450.6" y1="1428.3" x2="1450.6" y2="1440.8"/>
<line x1="1561.4" y1="1428.3" x2="1561.4" y2="1454.8"/>
<line x1="1672.2" y1="1428.3" x2="1672.2" y2="1440.8"/>
<line x1="1783.0" y1="1428.3" x2="1783.0" y2="1454.8"/>
<line x1="1893.9" y1="1428.3" x2="1893.9" y2="1440.8"/>
<line x1="2004.7" y1="1428.3" x2="2004.7" y2="1454.8"/>
<line x1="2115.5" y1="1428.3" x2="2115.5" y2="1440.8"/>
</g>
<g font-family='"Liberation Sans", sans-serif' fill="#000">
<text transform="translate(191.9,80.6) scale(0.965,1)" font-size="80.0">0.4</text>
<text transform="translate(191.9,276.6) scale(0.965,1)" font-size="80.0">0.3</text>
<text transform="translate(191.9,472.5) scale(0.965,1)" font-size="80.0">0.2</text>
<text transform="translate(191.9,668.5) scale(0.965,1)" font-size="80.0">0.1</text>
<text transform="translate(191.9,864.4) scale(0.965,1)" font-size="80.0">0.0</text>
<text transform="translate(133.4,1062.2) scale(0.965,1)" font-size="96.0">−</text><text transform="translate(191.9,1060.4) scale(0.965,1)" font-size="80.0">0.1</text>
<text transform="translate(133.4,1258.1) scale(0.965,1)" font-size="96.0">−</text><text transform="translate(191.9,1256.3) scale(0.965,1)" font-size="80.0">0.2</text>
<text transform="translate(133.4,1451.5) scale(0.965,1)" font-size="96.0">−</text><text transform="translate(191.9,1452.3) scale(0.965,1)" font-size="80.0">0.3</text>
<text transform="translate(354.3,1535.1) scale(0.965,1)" font-size="96.0">−</text><text transform="translate(412.8,1533.3) scale(0.965,1)" font-size="80.0">0.6</text>
<text transform="translate(575.9,1535.1) scale(0.965,1)" font-size="96.0">−</text><text transform="translate(634.4,1533.3) scale(0.965,1)" font-size="80.0">0.4</text>
<text transform="translate(797.6,1535.1) scale(0.965,1)" font-size="96.0">−</text><text transform="translate(856.1,1533.3) scale(0.965,1)" font-size="80.0">0.2</text>
<text transform="translate(1065.2,1533.3) scale(0.965,1)" font-size="80.0">0.0</text>
<text transform="translate(1286.8,1533.3) scale(0.965,1)" font-size="80.0">0.2</text>
<text transform="translate(1508.4,1533.3) scale(0.965,1)" font-size="80.0">0.4</text>
<text transform="translate(1730.1,1533.3) scale(0.965,1)" font-size="80.0">0.6</text>
<text transform="translate(1951.7,1533.3) scale(0.965,1)" font-size="80.0">0.8</text>
<text transform="translate(1232.0,1666.5) scale(0.975,1)" font-size="90.5" text-anchor="middle">Potential (V)</text>
<text transform="translate(89.0,738.0) rotate(-90) scale(0.975,1)" font-size="90.5" text-anchor="middle">Current (mA)</text>
<rect x="150" y="0" width="165" height="30.5" fill="#fff"/>
<rect x="395" y="115" width="535" height="345" fill="#fff" stroke="#4a4a4a" stroke-width="2.6"/>
<line x1="405" y1="162.3" x2="555" y2="162.3" stroke="#00ff00" stroke-width="11.5" stroke-linecap="round"/>
<text transform="translate(571.5,186.8) scale(0.98,1)" font-size="69.5">PU/PPy-2C</text>
<line x1="405" y1="245.5" x2="555" y2="245.5" stroke="#ff0000" stroke-width="9.5" stroke-linecap="round"/>
<text transform="translate(571.5,269.5) scale(0.98,1)" font-size="69.5">PU/PPy-3C</text>
<line x1="405" y1="329.0" x2="555" y2="329.0" stroke="#0000ff" stroke-width="9.5" stroke-linecap="round"/>
<text transform="translate(571.5,352.3) scale(0.98,1)" font-size="69.5">PU/PPy-4C</text>
<line x1="405" y1="412.2" x2="555" y2="412.2" stroke="#00008b" stroke-width="10" stroke-linecap="round"/>
<text transform="translate(571.5,435.6) scale(0.98,1)" font-size="69.5">PU/PPy-5C</text>
</g>
</svg>
</body></html>
